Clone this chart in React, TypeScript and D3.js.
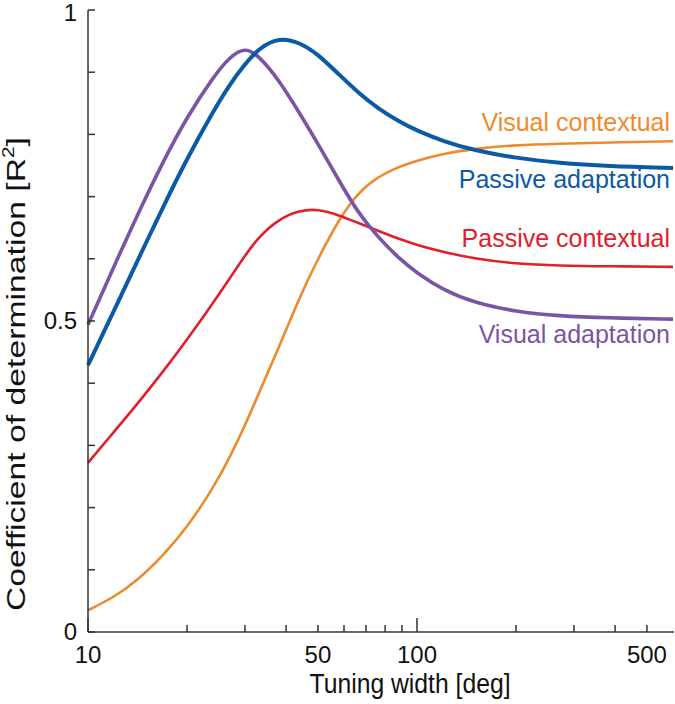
import React from 'react';
import * as d3 from 'd3';

const widths = [10, 12, 14, 17, 20, 24, 27, 30, 33, 38, 44, 50, 58, 66, 76, 88, 100, 120, 150, 200, 270, 380, 600];

const visualContextual = [0.035, 0.056, 0.081, 0.124, 0.168, 0.231, 0.281, 0.332, 0.383, 0.457, 0.539, 0.6, 0.664, 0.706, 0.732, 0.748, 0.758, 0.769, 0.777, 0.783, 0.785, 0.787, 0.789];
const passiveContextual = [0.272, 0.322, 0.364, 0.42, 0.47, 0.529, 0.569, 0.605, 0.635, 0.664, 0.678, 0.68, 0.67, 0.658, 0.645, 0.632, 0.622, 0.611, 0.6, 0.592, 0.589, 0.588, 0.587];
const visualAdaptation = [0.494, 0.588, 0.666, 0.759, 0.828, 0.892, 0.925, 0.94, 0.927, 0.888, 0.834, 0.785, 0.725, 0.675, 0.635, 0.601, 0.577, 0.55, 0.529, 0.515, 0.508, 0.505, 0.503];
const passiveAdaptation = [0.429, 0.517, 0.592, 0.686, 0.761, 0.837, 0.881, 0.913, 0.938, 0.956, 0.948, 0.929, 0.896, 0.868, 0.842, 0.821, 0.806, 0.789, 0.774, 0.762, 0.754, 0.749, 0.746];

const xTickLabels = [10, 50, 100, 500];
const xMinorTicks = [20, 30, 40, 50, 60, 70, 80, 90, 200, 300, 400, 500];
const xMajorTicks = [10, 100];
const yTicks = [0, 0.1, 0.2, 0.3, 0.4, 0.5, 0.6, 0.7, 0.8, 0.9, 1];
const yTickLabels = [0, 0.5, 1];

const series = [
  { name: 'Visual contextual', values: visualContextual, color: '#ef8a2c', width: 2.6, labelY: 131 },
  { name: 'Passive contextual', values: passiveContextual, color: '#e0202a', width: 2.6, labelY: 247 },
  { name: 'Visual adaptation', values: visualAdaptation, color: '#7a55a5', width: 3.6, labelY: 343 },
  { name: 'Passive adaptation', values: passiveAdaptation, color: '#0b5aa6', width: 4, labelY: 188 },
];

const W = 675;
const H = 704;
const font = '"Liberation Sans", Arial, Helvetica, sans-serif';

export default function App() {
  const x = d3.scaleLog().domain([10, 600]).range([88, 673]);
  const y = d3.scaleLinear().domain([0, 1]).range([632, 10]);

  // basis spline smooths out small reading errors between samples
  const line = d3
    .line<[number, number]>()
    .x((d) => x(d[0]))
    .y((d) => y(d[1]))
    .curve(d3.curveBasis);

  const axisColor = '#333';

  return (
    <svg width={W} height={H} style={{ position: 'absolute', left: 0, top: 0, background: '#fff' }}>
      {/* curves */}
      {series.map((s) => (
        <path
          key={s.name}
          d={line(widths.map((w, i) => [w, s.values[i]] as [number, number])) || ''}
          fill="none"
          stroke={s.color}
          strokeWidth={s.width}
        />
      ))}

      {/* series labels */}
      {series.map((s) => (
        <text key={s.name + '-label'} x={670} y={s.labelY} textAnchor="end" fontFamily={font} fontSize={25} fill={s.color}>
          {s.name}
        </text>
      ))}

      {/* axes */}
      <line x1={88} x2={88} y1={y(1)} y2={y(0)} stroke={axisColor} strokeWidth={1.5} />
      <line x1={88} x2={674} y1={y(0)} y2={y(0)} stroke={axisColor} strokeWidth={1.5} />

      {yTicks.map((t) => (
        <line key={'yt' + t} x1={88} x2={95} y1={y(t)} y2={y(t)} stroke={axisColor} strokeWidth={1.5} />
      ))}
      {xMinorTicks.map((t) => (
        <line key={'xm' + t} x1={x(t)} x2={x(t)} y1={y(0)} y2={y(0) - 7} stroke={axisColor} strokeWidth={1.5} />
      ))}
      {xMajorTicks.map((t) => (
        <line key={'xM' + t} x1={x(t)} x2={x(t)} y1={y(0)} y2={y(0) - 14} stroke={axisColor} strokeWidth={1.5} />
      ))}

      {yTickLabels.map((t) => (
        <text
          key={'yl' + t}
          x={77}
          y={t === 1 ? y(t) + 3 : y(t)}
          dy="0.35em"
          textAnchor="end"
          fontFamily={font}
          fontSize={24}
          fill="#111"
        >
          {t}
        </text>
      ))}
      {xTickLabels.map((t) => (
        <text key={'xl' + t} x={x(t)} y={663} textAnchor="middle" fontFamily={font} fontSize={24} fill="#111">
          {t}
        </text>
      ))}

      <text x={410} y={693} textAnchor="middle" fontFamily={font} fontSize={27} textLength={201} lengthAdjust="spacingAndGlyphs" fill="#111">
        Tuning width [deg]
      </text>

      <text
        transform="translate(25,374) rotate(-90)"
        textAnchor="middle"
        fontFamily={font}
        fontSize={26}
        textLength={474}
        lengthAdjust="spacingAndGlyphs"
        fill="#111"
      >
        Coefficient of determination [R<tspan fontSize={16} dy={-11}>2</tspan>
        <tspan dy={11}>]</tspan>
      </text>
    </svg>
  );
}
